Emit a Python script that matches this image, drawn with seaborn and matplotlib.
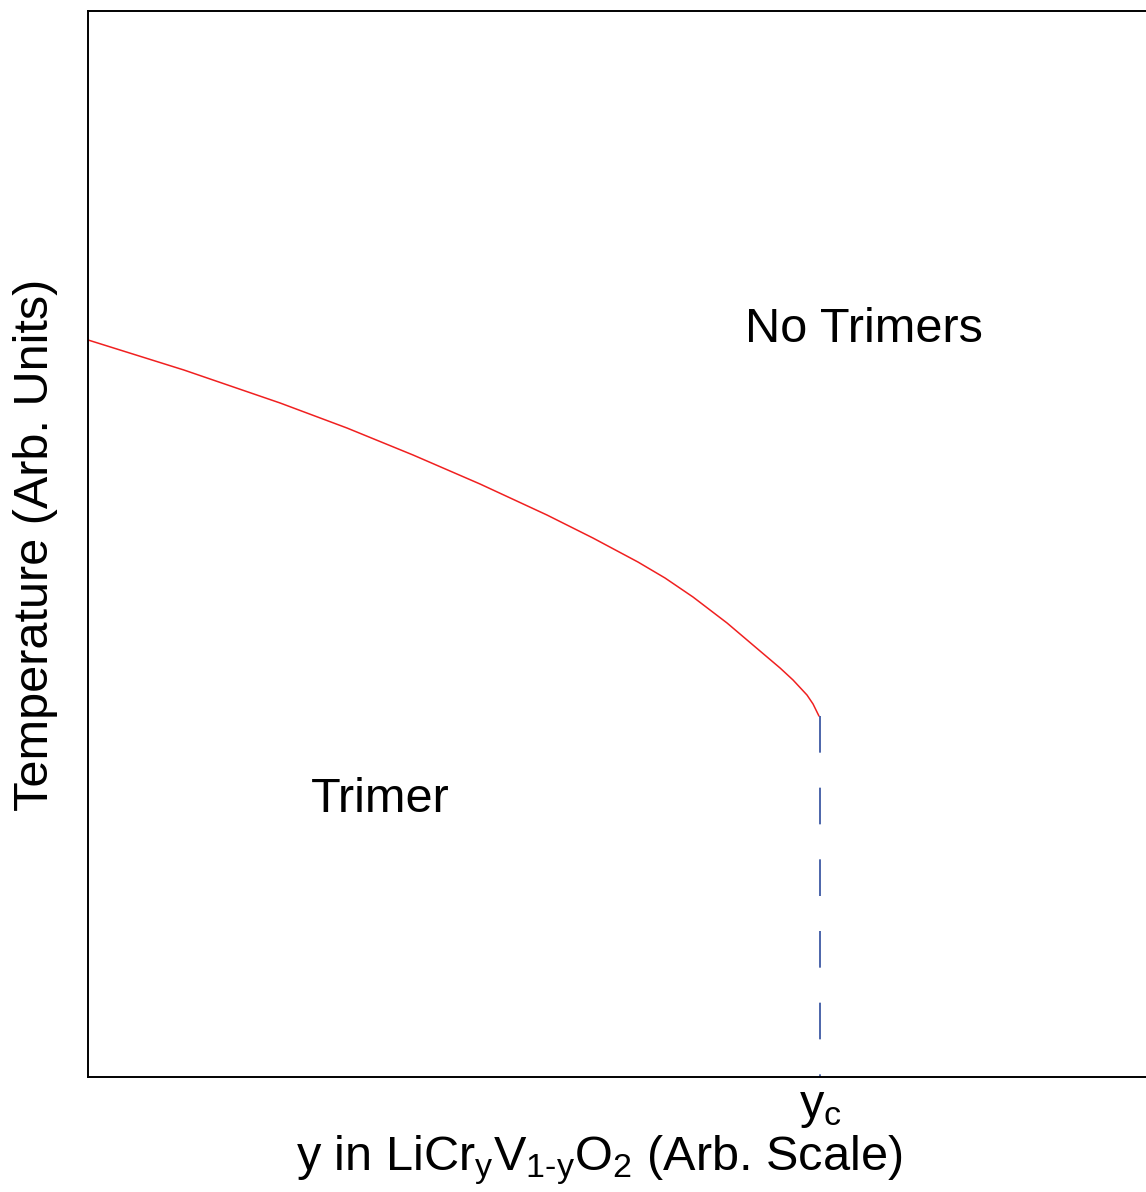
import matplotlib
matplotlib.use("Agg")
import matplotlib.pyplot as plt
import seaborn as sns
import pandas as pd

# ---- data (arbitrary units 0..1) ----
comp_y = [0.0000, 0.0907, 0.1815, 0.2448, 0.3072, 0.3705, 0.4338, 0.4773,
          0.5198, 0.5454, 0.5718, 0.6040, 0.6352, 0.6541, 0.6664, 0.6796,
          0.6853, 0.6909]
temp_T = [0.6914, 0.6632, 0.6323, 0.6088, 0.5835, 0.5563, 0.5272, 0.5056,
          0.4831, 0.4681, 0.4503, 0.4259, 0.3996, 0.3837, 0.3724, 0.3583,
          0.3499, 0.3386]
y_c = 0.6919
yc_line_x = [y_c, y_c]
yc_line_T = [0.3386, 0.0]
tick_labels = [r"$\mathregular{y_c}$"]
region_labels = ["No Trimers", "Trimer"]
region_x = [0.733, 0.276]
region_T = [0.701, 0.260]

sns.set_theme(style="white")
plt.rcParams["font.family"] = ["Liberation Sans", "DejaVu Sans"]
plt.rcParams["mathtext.fontset"] = "custom"
plt.rcParams["mathtext.rm"] = "Liberation Sans"
plt.rcParams["mathtext.it"] = "Liberation Sans"
plt.rcParams["mathtext.default"] = "regular"
plt.rcParams["text.color"] = "black"
plt.rcParams["axes.labelcolor"] = "black"
plt.rcParams["xtick.color"] = "black"

fig = plt.figure(figsize=(11.46, 11.92), dpi=100)
ax = fig.add_axes([88/1146, 115/1192, 1.0 - 88/1146 + 0.01, 1066/1192])

curve = pd.DataFrame({"y": comp_y, "T": temp_T})
sns.lineplot(data=curve, x="y", y="T", sort=False, estimator=None,
             color="#f02020", linewidth=1.1, ax=ax)
vline = pd.DataFrame({"y": yc_line_x, "T": yc_line_T})
sns.lineplot(data=vline, x="y", y="T", sort=False, estimator=None,
             color="#2d4c9c", linewidth=1.2, ax=ax)
ax.lines[-1].set_dashes((22, 21))

ax.set_xlim(0, 1.0 + 0.01 * 1146 / 1058)
ax.set_ylim(0, 1)
ax.set_xticks([y_c])
ax.set_xticklabels(tick_labels, fontsize=35)
ax.set_yticks([])
ax.tick_params(axis="x", length=0, pad=6)

for s in ["left", "top", "bottom"]:
    ax.spines[s].set_color("black")
    ax.spines[s].set_linewidth(1.4)
ax.spines["right"].set_visible(False)

ax.set_xlabel(r"y in LiCr$_y$V$_{1\text{-}y}$O$_2$ (Arb. Scale)", fontsize=35)
ax.xaxis.set_label_coords(0.478, -0.053)
ax.set_ylabel("Temperature (Arb. Units)", fontsize=35)
ax.yaxis.set_label_coords(-0.028, 0.499)

for lab, xx, tt in zip(region_labels, region_x, region_T):
    ax.text(xx, tt, lab, fontsize=35, ha="center", va="center", color="black")

fig.savefig("out.png", dpi=100)
